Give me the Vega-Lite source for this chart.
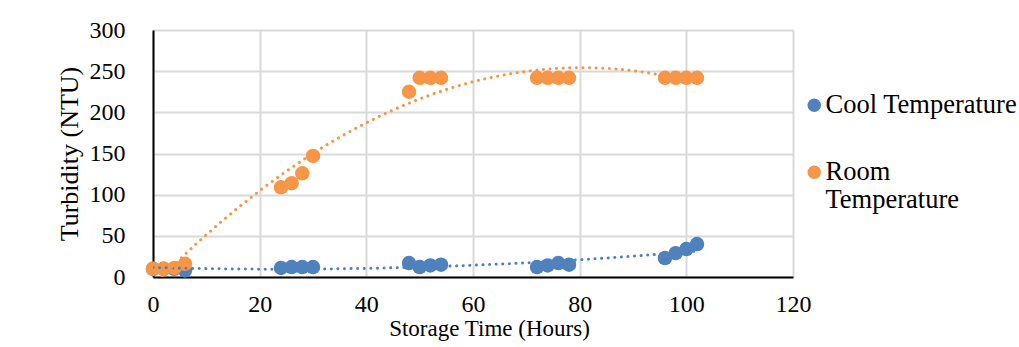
{
  "$schema": "https://vega.github.io/schema/vega-lite/v6.json",
  "width": 640,
  "height": 247,
  "autosize": {"type": "none"},
  "padding": {"left": 153, "top": 30, "right": 226, "bottom": 70},
  "background": "white",
  "config": {
    "view": {"stroke": null},
    "font": "Liberation Serif",
    "style": {"guide-label": {"lineHeight": 28}},
    "axis": {
      "grid": true,
      "gridColor": "#d9d9d9",
      "gridWidth": 2,
      "ticks": false,
      "labelFlush": false,
      "domainColor": "#000000",
      "domainWidth": 2,
      "labelColor": "#000000",
      "labelFont": "Liberation Serif",
      "labelFontSize": 24,
      "titleColor": "#000000",
      "titleFont": "Liberation Serif",
      "titleFontWeight": "normal"
    }
  },
  "data": {
    "values": [
      {"t": 0, "v": 10, "s": "Cool Temperature"},
      {"t": 2, "v": 10, "s": "Cool Temperature"},
      {"t": 4, "v": 10, "s": "Cool Temperature"},
      {"t": 6, "v": 8, "s": "Cool Temperature"},
      {"t": 24, "v": 11, "s": "Cool Temperature"},
      {"t": 26, "v": 12, "s": "Cool Temperature"},
      {"t": 28, "v": 12, "s": "Cool Temperature"},
      {"t": 30, "v": 12, "s": "Cool Temperature"},
      {"t": 48, "v": 17, "s": "Cool Temperature"},
      {"t": 50, "v": 12, "s": "Cool Temperature"},
      {"t": 52, "v": 14, "s": "Cool Temperature"},
      {"t": 54, "v": 15, "s": "Cool Temperature"},
      {"t": 72, "v": 12, "s": "Cool Temperature"},
      {"t": 74, "v": 14, "s": "Cool Temperature"},
      {"t": 76, "v": 17, "s": "Cool Temperature"},
      {"t": 78, "v": 15, "s": "Cool Temperature"},
      {"t": 96, "v": 23, "s": "Cool Temperature"},
      {"t": 98, "v": 29, "s": "Cool Temperature"},
      {"t": 100, "v": 34, "s": "Cool Temperature"},
      {"t": 102, "v": 40, "s": "Cool Temperature"},
      {"t": 0, "v": 10, "s": "Room Temperature"},
      {"t": 2, "v": 10, "s": "Room Temperature"},
      {"t": 4, "v": 11, "s": "Room Temperature"},
      {"t": 6, "v": 16, "s": "Room Temperature"},
      {"t": 24, "v": 109, "s": "Room Temperature"},
      {"t": 26, "v": 114, "s": "Room Temperature"},
      {"t": 28, "v": 126, "s": "Room Temperature"},
      {"t": 30, "v": 147, "s": "Room Temperature"},
      {"t": 48, "v": 225, "s": "Room Temperature"},
      {"t": 50, "v": 242, "s": "Room Temperature"},
      {"t": 52, "v": 242, "s": "Room Temperature"},
      {"t": 54, "v": 242, "s": "Room Temperature"},
      {"t": 72, "v": 242, "s": "Room Temperature"},
      {"t": 74, "v": 242, "s": "Room Temperature"},
      {"t": 76, "v": 242, "s": "Room Temperature"},
      {"t": 78, "v": 242, "s": "Room Temperature"},
      {"t": 96, "v": 242, "s": "Room Temperature"},
      {"t": 98, "v": 242, "s": "Room Temperature"},
      {"t": 100, "v": 242, "s": "Room Temperature"},
      {"t": 102, "v": 242, "s": "Room Temperature"}
    ]
  },
  "layer": [
    {
      "mark": {"type": "point", "filled": true, "size": 210, "opacity": 1, "shape": "circle"},
      "encoding": {
        "x": {
          "field": "t",
          "type": "quantitative",
          "scale": {"domain": [0, 120], "nice": false},
          "axis": {
            "values": [0, 20, 40, 60, 80, 100, 120],
            "title": "Storage Time (Hours)",
            "titleFontSize": 23,
            "labelPadding": 15,
            "titlePadding": 1,
            "titleX": 336
          }
        },
        "y": {
          "field": "v",
          "type": "quantitative",
          "scale": {"domain": [0, 300], "nice": false},
          "axis": {
            "values": [0, 50, 100, 150, 200, 250, 300],
            "title": "Turbidity (NTU)",
            "titleFontSize": 26,
            "labelPadding": 28,
            "titlePadding": 7
          }
        },
        "color": {
          "field": "s",
          "type": "nominal",
          "scale": {"domain": ["Cool Temperature", "Room Temperature"], "range": ["#4f81bd", "#f79646"]},
          "legend": {
            "title": null,
            "orient": "none",
            "legendX": 648,
            "legendY": 62,
            "symbolType": "circle",
            "symbolSize": 180,
            "symbolStrokeWidth": 0,
            "labelFont": "Liberation Serif",
            "labelFontSize": 26.5,
            "labelColor": "#000000",
            "labelOffset": -2,
            "rowPadding": 40,
            "labelLimit": 300,
            "labelExpr": "datum.label == 'Room Temperature' ? ['Room', 'Temperature'] : datum.label"
          }
        }
      }
    },
    {
      "transform": [
        {"regression": "v", "on": "t", "groupby": ["s"], "method": "poly", "order": 2, "extent": [0, 102]}
      ],
      "mark": {"type": "line", "strokeDash": [0.1, 6.5], "strokeCap": "round", "strokeWidth": 3, "clip": true},
      "encoding": {
        "x": {"field": "t", "type": "quantitative"},
        "y": {"field": "v", "type": "quantitative"},
        "stroke": {
          "field": "s",
          "type": "nominal",
          "scale": {"domain": ["Cool Temperature", "Room Temperature"], "range": ["#4f81bd", "#f79646"]},
          "legend": null
        }
      }
    }
  ]
}
